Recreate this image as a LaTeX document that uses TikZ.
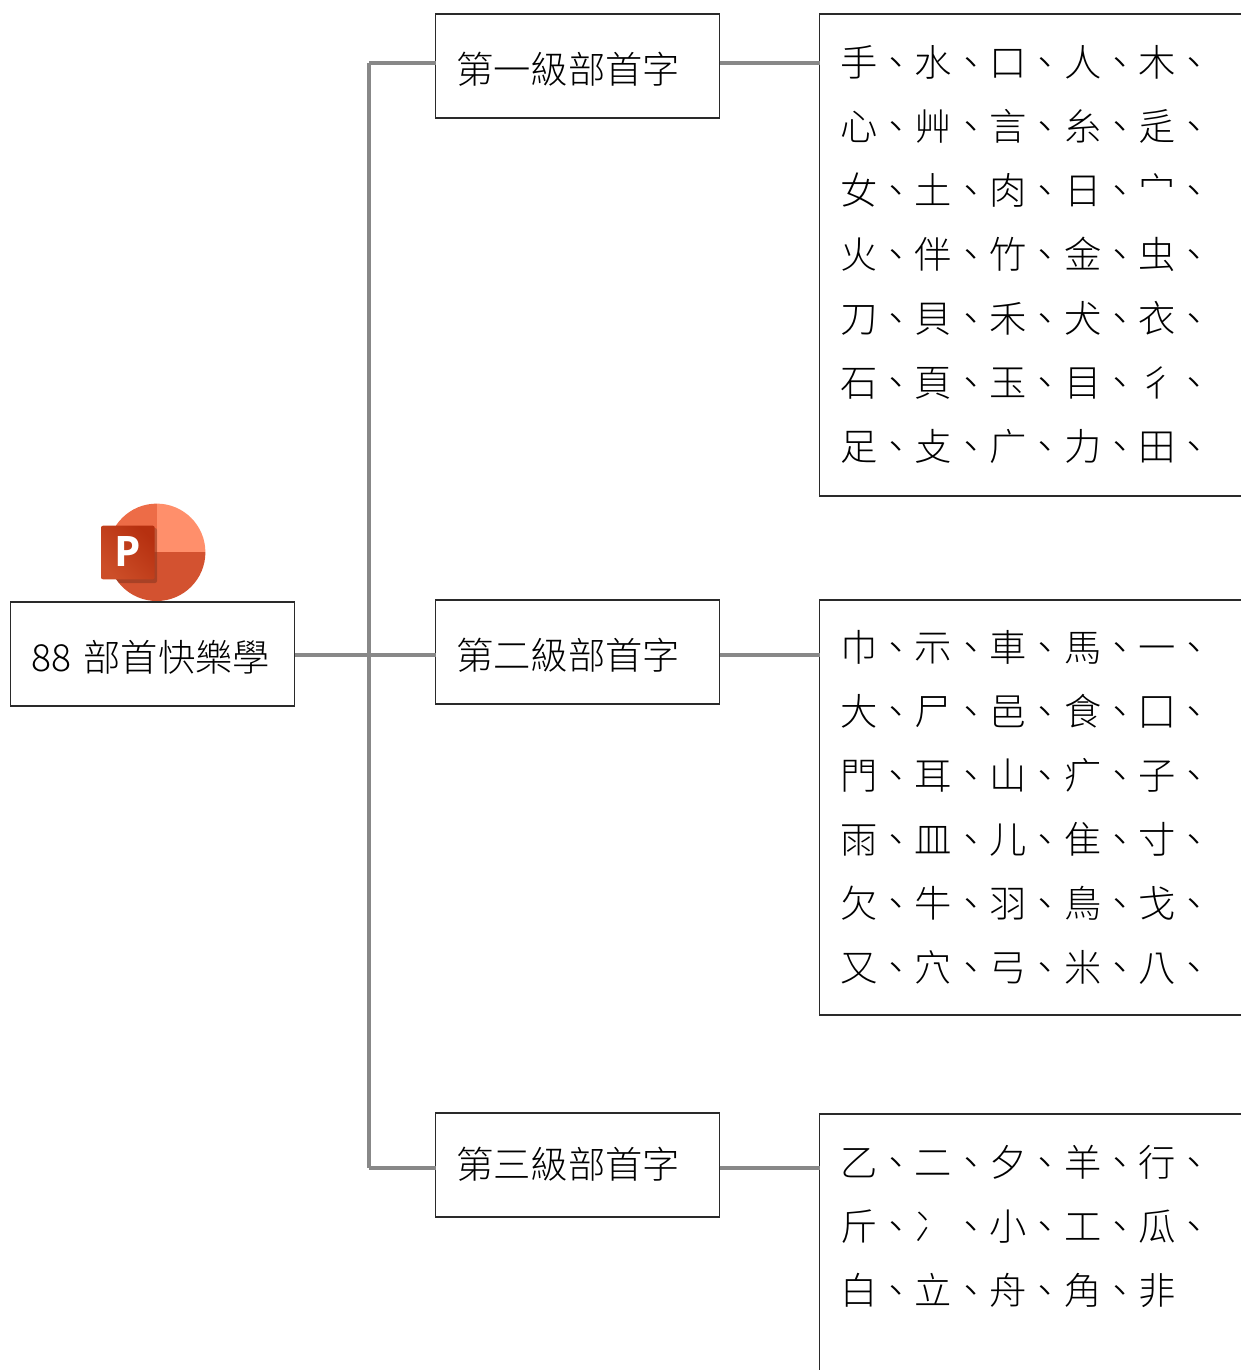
\documentclass[tikz,border=0pt]{standalone}
\usepackage{fontspec}
\setmainfont[UprightFont={* Light}]{Noto Sans CJK TC}
\newfontfamily\iconfont{Open Sans}
\definecolor{linkgray}{HTML}{888888}
\definecolor{boxline}{HTML}{2A2A2A}
\tikzset{
  x=1pt,y=-1pt,
  basebox/.style={draw=boxline,line width=1.2pt,fill=white,outer sep=0pt,anchor=north west,align=left,text=black,
    font=\fontsize{37.3}{64}\selectfont},
  labelbox/.style={basebox,minimum height=104pt,inner xsep=20.6pt,inner ysep=0pt,text width=242.8pt},
  panelbox/.style={basebox,inner xsep=20.6pt,inner ysep=0pt,text width=400pt},
  link/.style={draw=linkgray,line width=4pt}
}
\newcommand{\labeltext}[2][34pt]{\raisebox{0pt}[#1][0pt]{#2}}
\begin{document}
\begin{tikzpicture}
\useasboundingbox (0,0) rectangle (1241,1370);
\clip (0,0) rectangle (1241,1370);
% icon
\begin{scope}
  \clip (156.7,552.3) circle[radius=48.7];
  \fill[color={rgb,255:red,237;green,108;blue,71}] (108,503) rectangle (156.7,552.3);
  \fill[color={rgb,255:red,255;green,143;blue,107}] (156.7,503) rectangle (206,552.3);
  \fill[color={rgb,255:red,211;green,82;blue,48}] (108,552.3) rectangle (206,602);
  \fill[black,opacity=.2,rounded corners=2pt] (104,528) rectangle (157,583);
\end{scope}
\shade[left color={rgb,255:red,204;green,78;blue,40},right color={rgb,255:red,182;green,48;blue,16},shading angle=135,rounded corners=2pt]
  (101,525.7) rectangle (154.7,579.3);
\node[font=\iconfont\bfseries\fontsize{42}{42}\selectfont,text=white,inner sep=0pt] (plogo) at (127.5,552) {P};
% boxes
\node[labelbox] (root) at (10.5,602) {\labeltext{88 部首快樂學}};
\node[labelbox] (sub1) at (435.6,14) {\labeltext[35pt]{第一級部首字}};
\node[labelbox] (sub2) at (435.6,600) {\labeltext{第二級部首字}};
\node[labelbox] (sub3) at (435.6,1113) {\labeltext[26pt]{第三級部首字}};
\node[panelbox,minimum height=482pt] (panel1) at (819.6,14) {手、水、口、人、木、\\心、艸、言、糸、辵、\\女、土、肉、日、宀、\\火、伴、竹、金、虫、\\刀、貝、禾、犬、衣、\\石、頁、玉、目、彳、\\足、攴、广、力、田、};
\node[panelbox,minimum height=415pt] (panel2) at (819.6,600) {巾、示、車、馬、一、\\大、尸、邑、食、囗、\\門、耳、山、疒、子、\\雨、皿、儿、隹、寸、\\欠、牛、羽、鳥、戈、\\又、穴、弓、米、八、};
\node[panelbox,minimum height=478pt] (panel3) at (819.6,1114) {乙、二、夕、羊、行、\\斤、冫、小、工、瓜、\\白、立、舟、角、非\\\mbox{}\\\mbox{}\\\mbox{}\\\mbox{}};
% connectors
\coordinate (trunk1) at (369,63.5);
\coordinate (trunk2) at (369,654.5);
\coordinate (trunk3) at (369,1167.5);
\draw[link] (trunk1) -- (trunk3);
\draw[link] (root.east |- trunk2) -- (sub2.west |- trunk2);
\draw[link] (trunk1) -- (sub1.west |- trunk1);
\draw[link] (trunk3) -- (sub3.west |- trunk3);
\draw[link] (sub1.east |- trunk1) -- (panel1.west |- trunk1);
\draw[link] (sub2.east |- trunk2) -- (panel2.west |- trunk2);
\draw[link] (sub3.east |- trunk3) -- (panel3.west |- trunk3);
\end{tikzpicture}
\end{document}
